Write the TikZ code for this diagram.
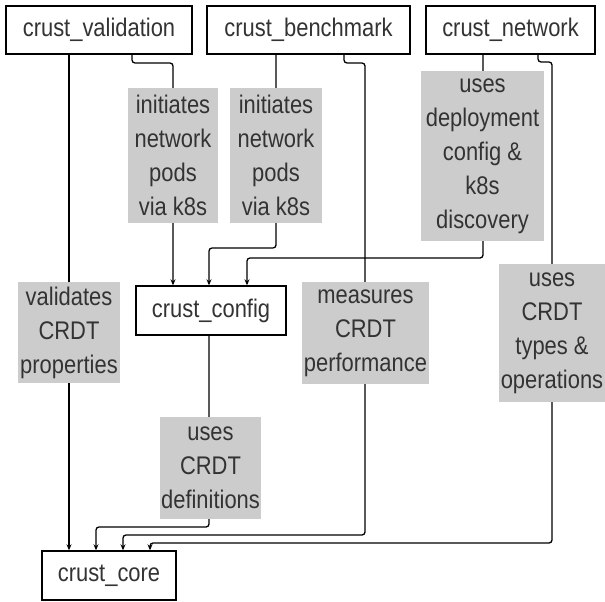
\documentclass[tikz,border=0pt]{standalone}
\usepackage{fontspec}
\setmainfont[FakeStretch=0.86]{Liberation Sans}
\usetikzlibrary{arrows.meta}
\definecolor{labelgray}{HTML}{CCCCCC}
\definecolor{inkgray}{HTML}{333333}
\tikzset{
  modbox/.style={draw=black, line width=1.4pt, fill=white, text=inkgray,
    inner sep=0pt, minimum height=48pt,
    font=\fontsize{25.5}{30}\selectfont},
  edgelabel/.style={fill=labelgray, text=inkgray, inner sep=0pt, align=center,
    font=\fontsize{25.5}{34}\selectfont},
  conn/.style={draw=black, line width=1.3pt, rounded corners=3pt,
    -{Stealth[length=6pt,width=5pt]}},
}
\begin{document}
\begin{tikzpicture}[x=1pt, y=-1pt]
\useasboundingbox (0,0) rectangle (605,602);

% modules
\node[modbox, minimum width=186pt] (val) at (99,30) {crust\_validation};
\node[modbox, minimum width=203pt] (ben) at (308.5,30) {crust\_benchmark};
\node[modbox, minimum width=169pt] (net) at (510.5,30) {crust\_network};
\node[modbox, minimum width=150pt, minimum height=49pt] (cfg) at (211,310.5) {crust\_config};
\node[modbox, minimum width=134pt, minimum height=49pt] (core) at (109,575.5) {crust\_core};

% dependencies into crust_config
\draw[conn] (val.south -| 132,0) |- (173,63) -- (cfg.north -| 173,0);
\draw[conn] (ben.south -| 276,0) |- (209,248) -- (cfg.north -| 209,0);
\draw[conn] (net.south -| 483,0) |- (247,258) -- (cfg.north -| 247,0);

% dependencies into crust_core
\draw[conn] (val.south -| 69,0) -- (core.north -| 69,0);
\draw[conn] (cfg.south -| 209,0) |- (96,527) -- (core.north -| 96,0);
\draw[conn] (ben.south -| 344,0) |- (365,63) |- (123,535) -- (core.north -| 123,0);
\draw[conn] (net.south -| 538,0) |- (552,62) |- (150,543) -- (core.north -| 150,0);

% edge labels
\node[edgelabel, minimum width=90pt, minimum height=135pt] (l1) at (173,155.5)
  {initiates\\network\\pods\\via k8s};
\node[edgelabel, minimum width=92pt, minimum height=135pt] (l2) at (276,155.5)
  {initiates\\network\\pods\\via k8s};
\node[edgelabel, minimum width=123pt, minimum height=170pt] (l3) at (482.5,156)
  {uses\\deployment\\config \&\\k8s\\discovery};
\node[edgelabel, minimum width=102pt, minimum height=101pt] (l4) at (69,332.5)
  {validates\\CRDT\\properties};
\node[edgelabel, minimum width=127pt, minimum height=102pt] (l5) at (365.5,333)
  {measures\\CRDT\\performance};
\node[edgelabel, minimum width=106pt, minimum height=138pt] (l6) at (552,333)
  {uses\\CRDT\\types \&\\operations};
\node[edgelabel, minimum width=101pt, minimum height=102pt] (l7) at (210.5,468)
  {uses\\CRDT\\definitions};
\end{tikzpicture}
\end{document}
